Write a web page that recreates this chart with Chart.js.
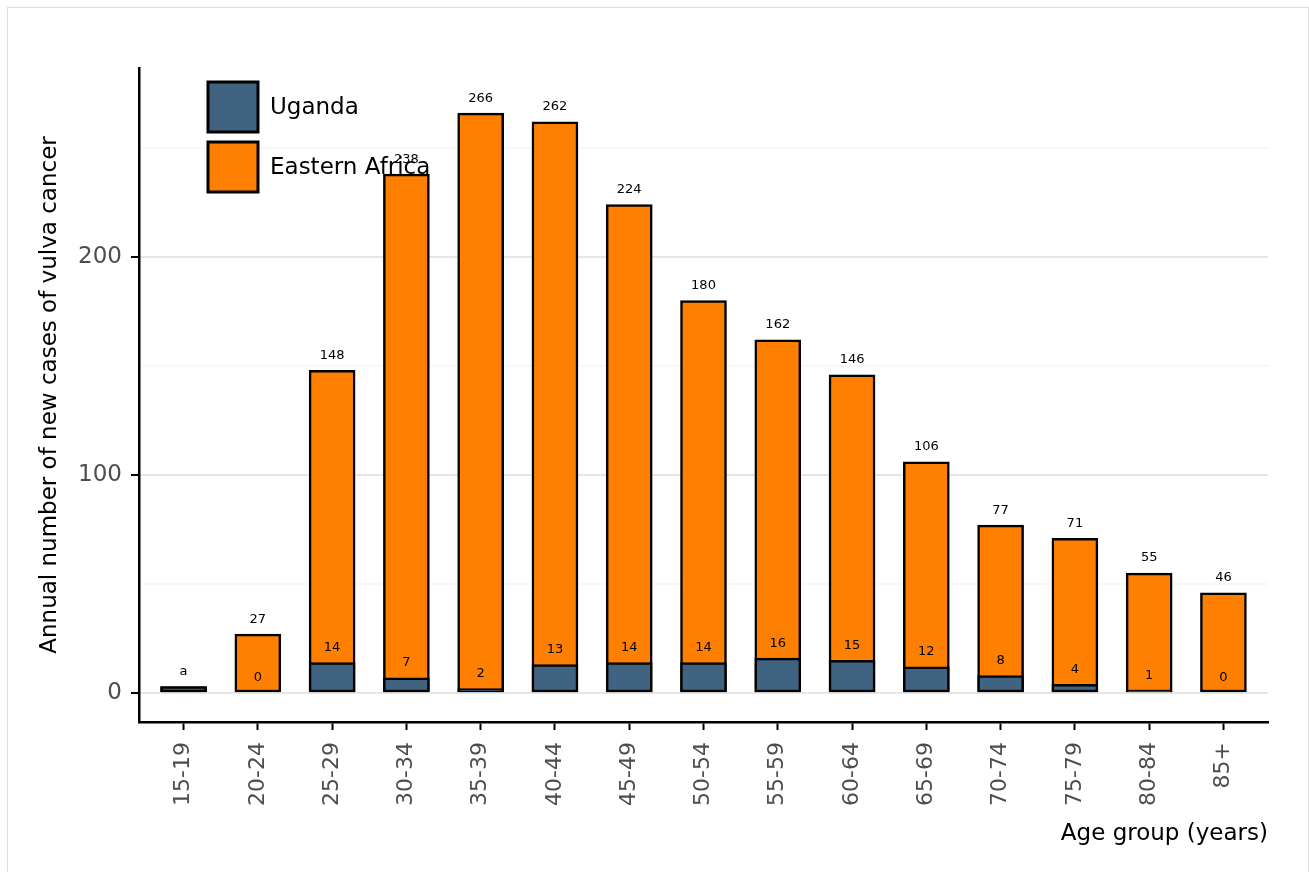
<!DOCTYPE html>
<html>
<head>
<meta charset="utf-8">
<script src="https://cdn.jsdelivr.net/npm/chart.js@4/dist/chart.umd.min.js"></script>
<style>
  body { margin: 0; background: #fff; }
  #frame { position: absolute; left: 7px; top: 7px; width: 1300px; height: 900px; border: 1px solid #dcdcdc; }
  #mycanvas { position: absolute; left: 0; top: 0; }
</style>
</head>
<body>
<div id="frame"></div>
<canvas id="mycanvas" width="1309" height="872"></canvas>
<script>
var ageGroups = ["15-19", "20-24", "25-29", "30-34", "35-39", "40-44", "45-49", "50-54",
                 "55-59", "60-64", "65-69", "70-74", "75-79", "80-84", "85+"];
var uganda = [3, 0, 14, 7, 2, 13, 14, 14, 16, 15, 12, 8, 4, 1, 0];
var easternAfrica = [3, 27, 148, 238, 266, 262, 224, 180, 162, 146, 106, 77, 71, 55, 46];
var ugandaLabels = ["", "0", "14", "7", "2", "13", "14", "14", "16", "15", "12", "8", "4", "1", "0"];
var easternAfricaLabels = ["a", "27", "148", "238", "266", "262", "224", "180", "162", "146", "106", "77", "71", "55", "46"];
var yTicks = [0, 100, 200];
var yGrid = [0, 50, 100, 150, 200, 250];

var blue = '#3f6380';
var orange = '#ff7f00';
var font = 'DejaVu Sans';

function points(vals){
	var out = [];
	for(var i in vals){
		out.push({x: Number(i), y: vals[i]});
	}
	return out;
}

// value labels over each bar
var barLabels = {
	id: 'barLabels',
	afterDatasetsDraw: function(chart){
		var ctx = chart.ctx;
		var lists = [ugandaLabels, easternAfricaLabels];
		ctx.save();
		ctx.font = '13px "' + font + '"';
		ctx.fillStyle = '#000';
		ctx.textAlign = 'center';
		ctx.textBaseline = 'middle';
		for(var d = 0; d < 2; d++){
			var meta = chart.getDatasetMeta(d);
			meta.data.forEach(function(bar, i){
				ctx.fillText(lists[d][i], bar.x, bar.y - 15);
			});
		}
		ctx.restore();
	}
};

// legend inside the plot, top left
var insideLegend = {
	id: 'insideLegend',
	afterDraw: function(chart){
		var ctx = chart.ctx;
		var area = chart.chartArea;
		var x = area.left + 69, y = area.top + 14, size = 50;
		ctx.save();
		chart.data.datasets.forEach(function(ds, i){
			var top = y + i * 60;
			ctx.fillStyle = ds.backgroundColor;
			ctx.fillRect(x, top, size, size);
			ctx.lineWidth = 3;
			ctx.strokeStyle = '#000';
			ctx.strokeRect(x, top, size, size);
			ctx.fillStyle = '#000';
			ctx.font = '23px "' + font + '"';
			ctx.textBaseline = 'middle';
			ctx.fillText(ds.label, x + 62, top + size / 2 + 1);
		});
		ctx.restore();
	}
};

var chartdata = {
	datasets: [
		{
			label: "Uganda",
			backgroundColor: blue,
			borderColor: '#000',
			borderWidth: 2.5,
			borderSkipped: false,
			grouped: false,
			barThickness: 46,
			data: points(uganda)
		},
		{
			label: "Eastern Africa",
			backgroundColor: orange,
			borderColor: '#000',
			borderWidth: 2.5,
			borderSkipped: false,
			grouped: false,
			barThickness: 46,
			data: points(easternAfrica)
		}
	]
};

var ctx = document.getElementById('mycanvas');

var barGraph = new Chart(ctx, {
	type: 'bar',
	data: chartdata,
	plugins: [barLabels, insideLegend],
	options: {
		responsive: false,
		animation: false,
		layout: { padding: { left: 0, top: 68, right: 41, bottom: 0 } },
		plugins: {
			legend: { display: false },
			tooltip: { enabled: false }
		},
		scales: {
			x: {
				type: 'linear',
				min: -0.6,
				max: 14.6,
				offset: false,
				afterFit: function(scale){ scale.height = 150; },
				afterBuildTicks: function(scale){
					scale.ticks = ageGroups.map(function(g, i){ return {value: i}; });
				},
				ticks: {
					autoSkip: false,
					minRotation: 90,
					maxRotation: 90,
					padding: 12,
					color: '#4d4d4d',
					font: { family: font, size: 22 },
					callback: function(v){ return ageGroups[v]; }
				},
				grid: {
					offset: false,
					drawOnChartArea: false,
					drawTicks: true,
					tickLength: 8,
					tickWidth: 2,
					tickColor: '#000'
				},
				border: { display: true, color: '#000', width: 2.5 },
				title: {
					display: true,
					text: 'Age group (years)',
					align: 'end',
					color: '#000',
					font: { family: font, size: 23 },
					padding: { top: 0, bottom: 24 }
				}
			},
			y: {
				min: -13.3,
				max: 286.7,
				afterFit: function(scale){ scale.width = 139; },
				afterBuildTicks: function(scale){
					scale.ticks = yGrid.map(function(v){ return {value: v}; });
				},
				ticks: {
					padding: 9,
					color: '#4d4d4d',
					font: { family: font, size: 23 },
					callback: function(v){ return yTicks.indexOf(v) >= 0 ? v : ''; }
				},
				grid: {
					color: function(c){ return c.tick && yTicks.indexOf(c.tick.value) >= 0 ? '#e6e6e6' : '#f7f7f7'; },
					lineWidth: 2,
					tickLength: 8,
					tickWidth: 2,
					tickColor: function(c){ return c.tick && yTicks.indexOf(c.tick.value) >= 0 ? '#000' : 'rgba(0,0,0,0)'; }
				},
				border: { display: true, color: '#000', width: 2.5 },
				title: {
					display: true,
					text: 'Annual number of new cases of vulva cancer',
					color: '#000',
					font: { family: font, size: 23 },
					padding: { top: 36, bottom: 0 }
				}
			}
		}
	}
});
</script>
</body>
</html>
